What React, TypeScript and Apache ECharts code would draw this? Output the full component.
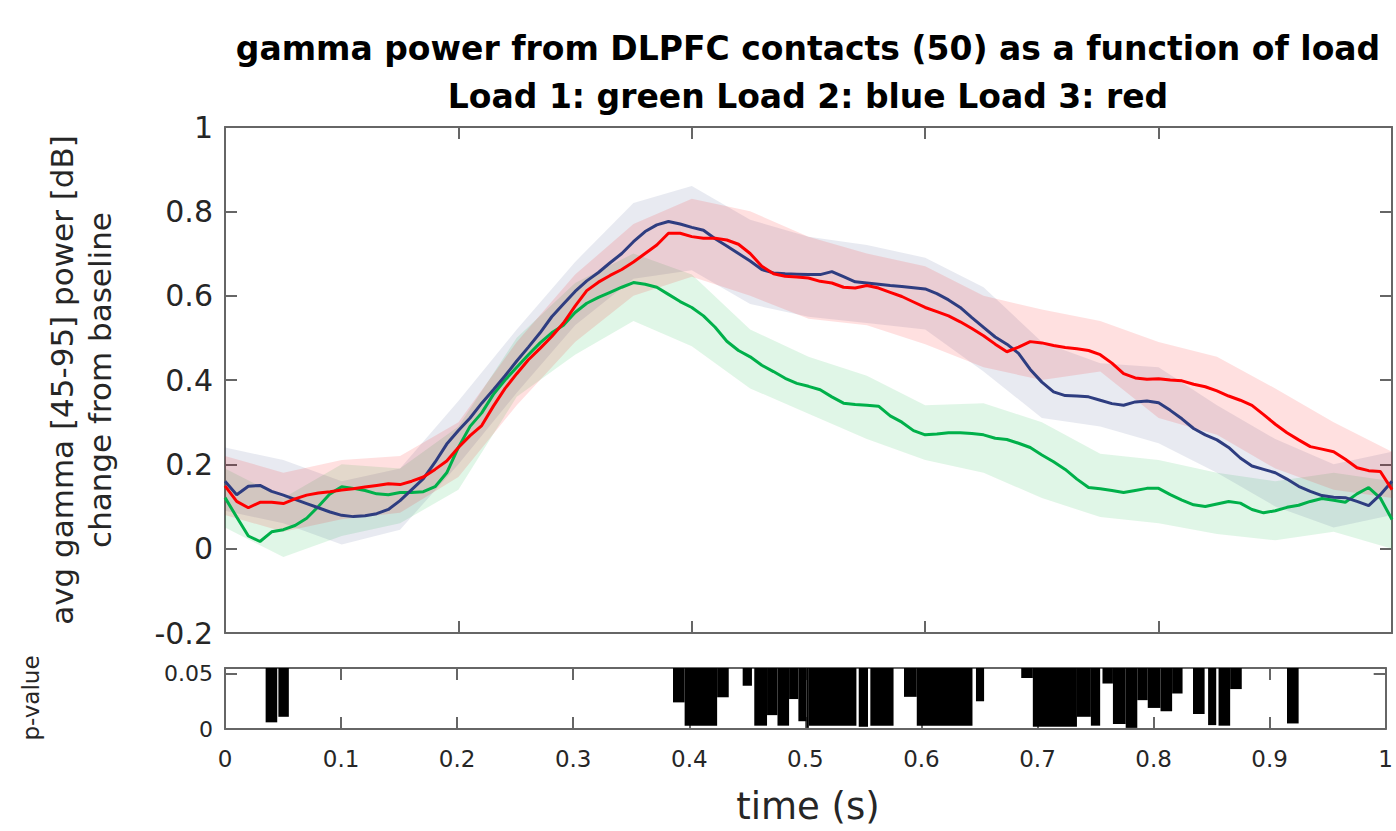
import React, { useEffect, useRef } from "react";
import * as echarts from "echarts";

// sampling step of the averaged traces (s)
const TIME_STEP = 0.01;

// Load 1 (green), Load 2 (blue), Load 3 (red) mean gamma power, t = 0 .. 1 s
const load1Green = [
  0.121, 0.075, 0.03, 0.017, 0.04, 0.045, 0.055, 0.072, 0.1, 0.13,
  0.147, 0.143, 0.138, 0.13, 0.128, 0.133, 0.133, 0.135, 0.147, 0.18,
  0.24, 0.29, 0.322, 0.366, 0.4, 0.43, 0.46, 0.488, 0.512, 0.53,
  0.56, 0.582, 0.596, 0.608, 0.62, 0.631, 0.627, 0.62, 0.603, 0.586,
  0.572, 0.552, 0.525, 0.492, 0.47, 0.455, 0.435, 0.42, 0.404, 0.392,
  0.385, 0.377, 0.36, 0.345, 0.342, 0.34, 0.338, 0.315, 0.3, 0.28,
  0.27, 0.272, 0.275, 0.275, 0.273, 0.27, 0.262, 0.259, 0.25, 0.24,
  0.222, 0.206, 0.188, 0.165, 0.145, 0.142, 0.138, 0.133, 0.138, 0.143,
  0.143, 0.128, 0.115, 0.104, 0.1, 0.106, 0.112, 0.108, 0.093, 0.085,
  0.09, 0.098, 0.103, 0.112, 0.119, 0.115, 0.11, 0.13, 0.145, 0.12,
  0.069,
];
const load2Blue = [
  0.16, 0.128, 0.148, 0.15, 0.136, 0.127, 0.117, 0.107, 0.097, 0.087,
  0.079, 0.076, 0.078, 0.083, 0.093, 0.114, 0.14, 0.166, 0.205, 0.248,
  0.28, 0.31, 0.345, 0.377, 0.41, 0.445, 0.478, 0.512, 0.55, 0.58,
  0.61, 0.635, 0.655, 0.678, 0.7, 0.728, 0.752, 0.768, 0.776, 0.77,
  0.762, 0.755, 0.735, 0.718, 0.7, 0.682, 0.662, 0.654, 0.652, 0.651,
  0.65, 0.65, 0.657, 0.645, 0.633, 0.63, 0.627, 0.624, 0.622, 0.619,
  0.616, 0.605, 0.59, 0.572, 0.548, 0.525, 0.502, 0.485, 0.463, 0.425,
  0.395, 0.372, 0.363, 0.362, 0.36, 0.352, 0.344, 0.34, 0.348, 0.35,
  0.346, 0.328, 0.308, 0.285, 0.27, 0.258, 0.24, 0.215, 0.196, 0.188,
  0.18, 0.165, 0.148, 0.136, 0.126, 0.122, 0.121, 0.112, 0.102, 0.128,
  0.16,
];
const load3Red = [
  0.149, 0.112, 0.097, 0.11, 0.11, 0.107, 0.118, 0.127, 0.132, 0.135,
  0.139, 0.142, 0.146, 0.15, 0.154, 0.152, 0.16, 0.17, 0.188, 0.208,
  0.24, 0.268, 0.292, 0.338, 0.38, 0.415, 0.448, 0.475, 0.503, 0.535,
  0.575, 0.612, 0.632, 0.648, 0.662, 0.68, 0.7, 0.72, 0.748, 0.748,
  0.74, 0.736, 0.736, 0.732, 0.722, 0.7, 0.67, 0.652, 0.646, 0.644,
  0.642, 0.634, 0.63, 0.62, 0.618, 0.624, 0.618, 0.608, 0.598, 0.585,
  0.572, 0.562, 0.552, 0.538, 0.522, 0.505, 0.485, 0.467, 0.478, 0.491,
  0.488, 0.482, 0.477, 0.474, 0.47, 0.46, 0.44, 0.415, 0.405, 0.402,
  0.403, 0.4, 0.398, 0.39, 0.384, 0.374, 0.362, 0.352, 0.34, 0.318,
  0.295, 0.275, 0.258, 0.242, 0.236, 0.23, 0.212, 0.192, 0.185, 0.183,
  0.14,
];

// shaded error bands, sampled every 0.05 s
const BAND_STEP = 0.05;
const greenUpper = [0.19, 0.12, 0.2, 0.19, 0.29, 0.5, 0.63, 0.7, 0.65, 0.52, 0.455, 0.41, 0.34, 0.345, 0.3, 0.225, 0.21, 0.18, 0.16, 0.18, 0.16];
const greenLower = [0.05, -0.02, 0.03, 0.06, 0.14, 0.36, 0.46, 0.54, 0.48, 0.38, 0.32, 0.26, 0.21, 0.18, 0.12, 0.075, 0.06, 0.035, 0.02, 0.04, 0.0];
const blueUpper = [0.24, 0.21, 0.16, 0.19, 0.35, 0.52, 0.68, 0.82, 0.86, 0.78, 0.74, 0.72, 0.69, 0.62, 0.49, 0.44, 0.43, 0.34, 0.26, 0.2, 0.23];
const blueLower = [0.09, 0.06, 0.01, 0.045, 0.2, 0.37, 0.53, 0.64, 0.66, 0.58, 0.55, 0.535, 0.52, 0.42, 0.31, 0.29, 0.25, 0.18, 0.1, 0.05, 0.08];
const redUpper = [0.22, 0.18, 0.21, 0.22, 0.3, 0.49, 0.65, 0.77, 0.83, 0.8, 0.74, 0.7, 0.67, 0.6, 0.567, 0.54, 0.49, 0.455, 0.38, 0.3, 0.23];
const redLower = [0.08, 0.04, 0.07, 0.085, 0.17, 0.34, 0.49, 0.6, 0.645, 0.6, 0.545, 0.53, 0.485, 0.43, 0.4, 0.42, 0.31, 0.27, 0.19, 0.14, 0.12];

// significant time windows (s) and their p-values
const sigStart = [0.035, 0.046, 0.386, 0.396, 0.424, 0.446, 0.456, 0.467, 0.476, 0.486, 0.494, 0.501, 0.503, 0.546, 0.556, 0.585, 0.596, 0.647, 0.686, 0.696, 0.734, 0.746, 0.756, 0.765, 0.776, 0.786, 0.795, 0.806, 0.816, 0.834, 0.847, 0.856, 0.866, 0.915];
const sigEnd = [0.045, 0.055, 0.396, 0.424, 0.434, 0.454, 0.467, 0.476, 0.486, 0.494, 0.501, 0.503, 0.544, 0.554, 0.576, 0.596, 0.644, 0.654, 0.696, 0.734, 0.746, 0.754, 0.765, 0.776, 0.786, 0.795, 0.806, 0.816, 0.825, 0.844, 0.854, 0.866, 0.876, 0.925];
const sigP = [0.006, 0.011, 0.024, 0.003, 0.0286, 0.039, 0.003, 0.0125, 0.003, 0.027, 0.007, 0.001, 0.003, 0.002, 0.003, 0.029, 0.003, 0.025, 0.046, 0.002, 0.011, 0.003, 0.041, 0.0045, 0.001, 0.026, 0.019, 0.016, 0.032, 0.0135, 0.0035, 0.003, 0.036, 0.005];

const P_AXIS_MAX = 0.055;

const AXIS_COLOR = "#666666";
const TEXT_COLOR = "#262626";
const FONT = "DejaVu Sans";

const fmt = (v: number) => String(Math.round(v * 100) / 100);

function bandSeries(name: string, upper: number[], lower: number[], fill: string) {
  return {
    type: "custom",
    name,
    xAxisIndex: 0,
    yAxisIndex: 0,
    silent: true,
    clip: true,
    z: 1,
    data: upper.map((u, i) => [i * BAND_STEP, lower[i], u]),
    encode: { x: 0, y: [1, 2] },
    renderItem: (params: any, api: any) => {
      if (params.dataIndex !== 0) return null;
      const pts: number[][] = [];
      for (let i = 0; i < upper.length; i++) pts.push(api.coord([i * BAND_STEP, upper[i]]));
      for (let i = lower.length - 1; i >= 0; i--) pts.push(api.coord([i * BAND_STEP, lower[i]]));
      return { type: "polygon", shape: { points: pts }, style: { fill } };
    },
  };
}

function lineSeries(name: string, values: number[], color: string) {
  return {
    type: "line",
    name,
    xAxisIndex: 0,
    yAxisIndex: 0,
    showSymbol: false,
    symbol: "none",
    z: 3,
    lineStyle: { color, width: 3 },
    data: values.map((v, i) => [i * TIME_STEP, v]),
  };
}

function boxAxis(extra: any) {
  return {
    type: "value",
    axisLine: { show: true, onZero: false, lineStyle: { color: AXIS_COLOR, width: 2 } },
    axisTick: { show: true, inside: true, length: 12, lineStyle: { color: AXIS_COLOR, width: 2 } },
    splitLine: { show: false },
    ...extra,
  };
}

export default function App() {
  const ref = useRef<HTMLDivElement>(null);
  useEffect(() => {
    const chart = echarts.init(ref.current!, null, { renderer: "svg" });
    const option: any = {
      animation: false,
      backgroundColor: "#ffffff",
      grid: [
        { left: 225, top: 127, width: 1167, height: 506 },
        { left: 225, top: 668, width: 1167, height: 61 },
      ],
      xAxis: [
        boxAxis({ gridIndex: 0, position: "bottom", min: 0, max: 1, interval: 0.2, axisLabel: { show: false } }),
        boxAxis({ gridIndex: 0, position: "top", min: 0, max: 1, interval: 0.2, axisLabel: { show: false } }),
        boxAxis({
          gridIndex: 1, position: "bottom", min: 0, max: 1, interval: 0.1,
          axisLabel: { show: true, formatter: fmt, color: TEXT_COLOR, fontFamily: FONT, fontSize: 23, margin: 18 },
        }),
        boxAxis({ gridIndex: 1, position: "top", min: 0, max: 1, interval: 0.1, axisLabel: { show: false } }),
      ],
      yAxis: [
        boxAxis({
          gridIndex: 0, position: "left", min: -0.2, max: 1, interval: 0.2,
          axisLabel: { show: true, formatter: fmt, color: TEXT_COLOR, fontFamily: FONT, fontSize: 30, margin: 12 },
        }),
        boxAxis({ gridIndex: 0, position: "right", min: -0.2, max: 1, interval: 0.2, axisLabel: { show: false } }),
        boxAxis({
          gridIndex: 1, position: "left", min: 0, max: P_AXIS_MAX, interval: 0.05,
          axisLabel: { show: true, showMaxLabel: false, formatter: fmt, color: TEXT_COLOR, fontFamily: FONT, fontSize: 22, margin: 12 },
        }),
        boxAxis({ gridIndex: 1, position: "right", min: 0, max: P_AXIS_MAX, interval: 0.05, axisLabel: { show: false } }),
      ],
      series: [
        bandSeries("Load 1 band", greenUpper, greenLower, "rgba(0,180,60,0.12)"),
        bandSeries("Load 2 band", blueUpper, blueLower, "rgba(46,61,128,0.11)"),
        bandSeries("Load 3 band", redUpper, redLower, "rgba(255,0,0,0.12)"),
        lineSeries("Load 1", load1Green, "#00b04a"),
        lineSeries("Load 2", load2Blue, "#2e3d80"),
        lineSeries("Load 3", load3Red, "#ff0000"),
        {
          type: "custom",
          name: "p-value",
          xAxisIndex: 2,
          yAxisIndex: 2,
          clip: true,
          data: sigP.map((p, i) => [sigStart[i], sigEnd[i], p]),
          encode: { x: [0, 1], y: 2 },
          renderItem: (params: any, api: any) => {
            const a = api.coord([api.value(0), P_AXIS_MAX]);
            const b = api.coord([api.value(1), api.value(2)]);
            return {
              type: "rect",
              shape: { x: a[0], y: a[1], width: b[0] - a[0], height: b[1] - a[1] },
              style: { fill: "#000000" },
            };
          },
        },
      ],
      graphic: [
        {
          type: "text", x: 808, y: 48,
          style: { text: "gamma power from DLPFC contacts (50) as a function of load", font: `bold 33px "${FONT}"`, fill: "#000", textAlign: "center", textVerticalAlign: "middle" },
        },
        {
          type: "text", x: 808, y: 96,
          style: { text: "Load 1: green Load 2: blue Load 3: red", font: `bold 33px "${FONT}"`, fill: "#000", textAlign: "center", textVerticalAlign: "middle" },
        },
        {
          type: "text", x: 62, y: 380, rotation: Math.PI / 2,
          style: { text: "avg gamma [45-95] power [dB]", font: `31px "${FONT}"`, fill: TEXT_COLOR, textAlign: "center", textVerticalAlign: "middle" },
        },
        {
          type: "text", x: 100, y: 380, rotation: Math.PI / 2,
          style: { text: "change from baseline", font: `31px "${FONT}"`, fill: TEXT_COLOR, textAlign: "center", textVerticalAlign: "middle" },
        },
        {
          type: "text", x: 31, y: 698, rotation: Math.PI / 2,
          style: { text: "p-value", font: `23px "${FONT}"`, fill: TEXT_COLOR, textAlign: "center", textVerticalAlign: "middle" },
        },
        {
          type: "text", x: 808, y: 806,
          style: { text: "time (s)", font: `37px "${FONT}"`, fill: TEXT_COLOR, textAlign: "center", textVerticalAlign: "middle" },
        },
      ],
    };
    chart.setOption(option);
    return () => chart.dispose();
  }, []);
  return (
    <div
      ref={ref}
      style={{ position: "fixed", left: 0, top: 0, width: 1396, height: 831, background: "#ffffff" }}
    />
  );
}
